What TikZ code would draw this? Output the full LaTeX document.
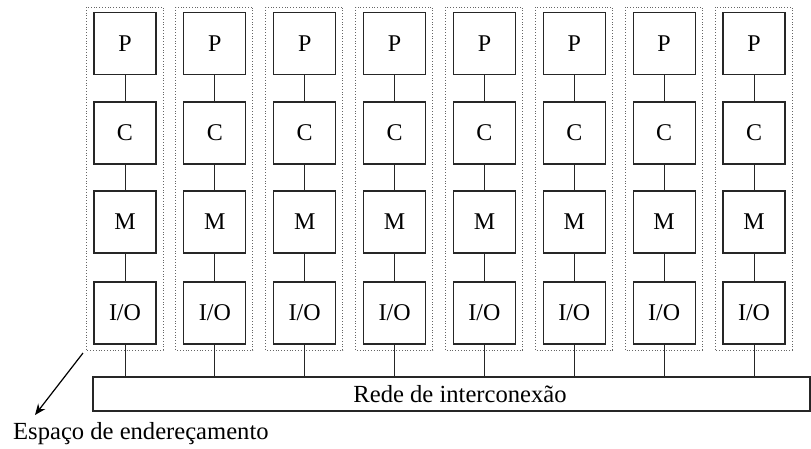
\documentclass[tikz,border=0pt]{standalone}
\usepackage{fontspec}
\setmainfont{Liberation Serif}
\usetikzlibrary{arrows.meta}
\begin{document}
\begin{tikzpicture}[x=1pt,y=-1pt,
  unit/.style={draw=black!85,line width=1.2pt,minimum width=62pt,minimum height=62pt,
    inner sep=0pt,font=\fontsize{24}{28}\selectfont},
  link/.style={draw=black!85,line width=1pt},
  group/.style={draw=black!60,line width=0.8pt,dotted},
  bus/.style={draw=black!85,line width=1.2pt,inner sep=0pt},
  caption/.style={inner sep=0pt,font=\fontsize{24.6}{28}\selectfont}]
\useasboundingbox (0,0) rectangle (811,448);
\foreach \i in {0,...,7}{
  \pgfmathsetmacro{\cx}{125+89.86*\i}
  \node[unit] (p\i) at (\cx,43.5) {P};
  \node[unit] (c\i) at (\cx,133) {C};
  \node[unit] (m\i) at (\cx,222) {M};
  \node[unit] (io\i) at (\cx,313) {I/O};
  \draw[group] (\cx-39,7) rectangle (\cx+38,350);
  \draw[link] (p\i) -- (c\i);
  \draw[link] (c\i) -- (m\i);
  \draw[link] (m\i) -- (io\i);
}
\node[bus,minimum width=717pt,minimum height=34pt] (net) at (451.5,394) {};
\node[caption] (netlabel) at (460,394) {Rede de interconexão};
\foreach \i in {0,...,7}{
  \draw[link] (io\i.south) -- (io\i.south |- net.north);
}
\node[caption,anchor=base west] (addr) at (13,439) {Espaço de endereçamento};
\coordinate (tail) at (83,353);
\coordinate (tip) at (35,415);
\draw[line width=1.2pt,-{Stealth[length=11pt,width=9pt]}] (tail) -- (tip);
\end{tikzpicture}
\end{document}
